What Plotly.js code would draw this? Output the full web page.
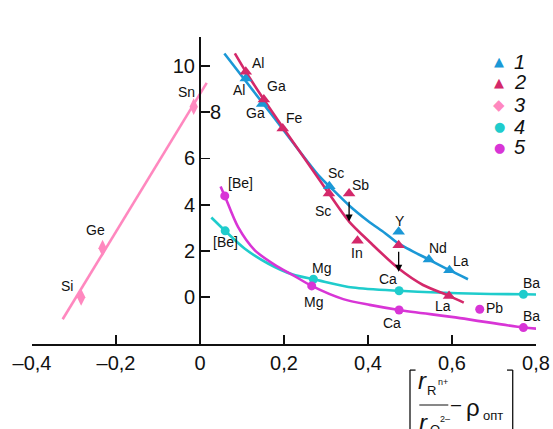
<!DOCTYPE html>
<html>
<head>
<meta charset="utf-8">
<script src="https://cdn.plot.ly/plotly-3.0.1.min.js"></script>
<style>html,body{margin:0;padding:0;background:#fff;}#chart{width:553px;height:429px;}</style>
</head>
<body>
<div id="chart"></div>
<script>
// ---- data ----
// Series 1 (blue triangles)
var s1Names = ['Al', 'Ga', 'Sc', 'Y', 'Nd', 'La'];
var s1X = [0.109, 0.148, 0.308, 0.473, 0.545, 0.594];
var s1Y = [9.46, 8.35, 4.80, 2.83, 1.63, 1.17];
var s1CurveX = [0.058, 0.17, 0.285, 0.308, 0.355, 0.40, 0.44, 0.473, 0.545, 0.594, 0.638];
var s1CurveY = [10.54, 7.91, 5.21, 4.80, 3.97, 3.30, 2.78, 2.32, 1.63, 1.17, 0.78];

// Series 2 (crimson triangles)
var s2Names = ['Al', 'Ga', 'Fe', 'Sc', 'Sb', 'In', 'Y', 'La'];
var s2X = [0.109, 0.152, 0.197, 0.307, 0.355, 0.375, 0.473, 0.593];
var s2Y = [9.75, 8.55, 7.29, 4.48, 4.48, 2.44, 2.25, 0.05];
var s2CurveX = [0.083, 0.109, 0.152, 0.197, 0.285, 0.307, 0.355, 0.404, 0.473, 0.531, 0.593, 0.628];
var s2CurveY = [10.54, 9.75, 8.55, 7.35, 5.06, 4.48, 3.27, 2.39, 1.24, 0.53, 0.06, -0.23];

// Series 3 (pink diamonds)
var s3Names = ['Si', 'Ge', 'Sn'];
var s3X = [-0.283, -0.232, -0.015];
var s3Y = [0.0, 2.12, 8.24];
var s3LineX = [-0.327, 0.016];
var s3LineY = [-0.95, 9.27];

// Series 4 (cyan circles)
var s4Names = ['[Be]', 'Mg', 'Ca', 'Ba'];
var s4X = [0.060, 0.270, 0.474, 0.770];
var s4Y = [2.87, 0.78, 0.28, 0.13];
var s4CurveX = [0.027, 0.060, 0.106, 0.162, 0.221, 0.270, 0.285, 0.364, 0.474, 0.666, 0.770, 0.817];
var s4CurveY = [3.45, 2.87, 2.11, 1.46, 0.98, 0.78, 0.72, 0.42, 0.28, 0.15, 0.13, 0.11];

// Series 5 (magenta circles)
var s5Names = ['[Be]', 'Mg', 'Ca', 'Pb', 'Ba'];
var s5X = [0.059, 0.266, 0.474, 0.666, 0.770];
var s5Y = [4.38, 0.49, -0.55, -0.52, -1.31];
var s5CurveX = [0.049, 0.059, 0.0905, 0.130, 0.178, 0.221, 0.266, 0.341, 0.404, 0.474, 0.619, 0.770, 0.813];
var s5CurveY = [4.79, 4.38, 3.04, 2.04, 1.40, 0.96, 0.49, -0.08, -0.33, -0.55, -0.90, -1.31, -1.37];

// Arrows (shifts): from -> to
var arrowX = [0.355, 0.473];
var arrowFromY = [4.19, 2.03];
var arrowToY = [3.27, 1.10];

// Tick labels
var xTickVals = [-0.4, -0.2, 0, 0.2, 0.4, 0.6, 0.8];
var xTickText = ['\u20130,4', '\u20130,2', '0', '0,2', '0,4', '0,6', '0,8'];
var yTickVals = [0, 2, 4, 6, 8, 10];
var yTickText = ['0', '2', '4', '6', '', '10'];
var legendLabels = ['1', '2', '3', '4', '5'];

// ---- styles ----
var C1 = '#1b98d6', C2 = '#d4286a', C3 = '#ff88bf', C4 = '#1fcccc', C5 = '#d835d6';
var FONT = 'Liberation Sans, Arial, Helvetica, sans-serif';
var LW = 2.6;

var traces = [
  {x: s3LineX, y: s3LineY, mode: 'lines', line: {color: C3, width: LW}, hoverinfo: 'skip'},
  {x: s4CurveX, y: s4CurveY, mode: 'lines', line: {color: C4, width: LW, shape: 'spline', smoothing: 0.8}},
  {x: s5CurveX, y: s5CurveY, mode: 'lines', line: {color: C5, width: LW, shape: 'spline', smoothing: 0.8}},
  {x: s1CurveX, y: s1CurveY, mode: 'lines', line: {color: C1, width: LW, shape: 'spline', smoothing: 0.8}},
  {x: s2CurveX, y: s2CurveY, mode: 'lines', line: {color: C2, width: LW, shape: 'spline', smoothing: 0.8}},
  {x: s3X, y: s3Y, text: s3Names, mode: 'markers', marker: {symbol: 'diamond-tall', size: 12, color: C3}},
  {x: s4X, y: s4Y, text: s4Names, mode: 'markers', marker: {symbol: 'circle', size: 9, color: C4}},
  {x: s5X, y: s5Y, text: s5Names, mode: 'markers', marker: {symbol: 'circle', size: 9, color: C5}},
  {x: s1X, y: s1Y, text: s1Names, mode: 'markers', marker: {symbol: 'triangle-up', size: 11, color: C1}},
  {x: s2X, y: s2Y, text: s2Names, mode: 'markers', marker: {symbol: 'triangle-up', size: 11, color: C2}}
];

// point label placements (label, x, y) in data units
var placements = [
  ['Al', 0.137, 10.14], ['Al', 0.094, 8.96], ['Ga', 0.181, 9.13], ['Ga', 0.133, 7.98],
  ['Fe', 0.226, 7.74], ['Sc', 0.324, 5.36], ['Sc', 0.294, 3.74], ['Sb', 0.381, 4.86],
  ['In', 0.373, 1.93], ['Y', 0.476, 3.30], ['Nd', 0.566, 2.12], ['La', 0.621, 1.58],
  ['Ca', 0.448, 0.79], ['La', 0.578, -0.38], ['Mg', 0.290, 1.25], ['Mg', 0.271, -0.19],
  ['Ca', 0.456, -1.10], ['Pb', 0.702, -0.45], ['Ba', 0.790, 0.61], ['Ba', 0.790, -0.80],
  ['[Be]', 0.096, 4.95], ['[Be]', 0.060, 2.40], ['Sn', -0.033, 8.89], ['Ge', -0.248, 2.91],
  ['Si', -0.317, 0.49]
];

var annotations = placements.map(function (p) {
  return {x: p[1], y: p[2], xref: 'x', yref: 'y', text: p[0], showarrow: false,
          xanchor: 'center', yanchor: 'middle', font: {family: FONT, size: 14, color: '#111'}};
});

// shift arrows
arrowX.forEach(function (ax, i) {
  annotations.push({x: ax, y: arrowToY[i], ax: ax, ay: arrowFromY[i], xref: 'x', yref: 'y',
    axref: 'x', ayref: 'y', showarrow: true, arrowhead: 2, arrowsize: 1.1, arrowwidth: 1.3,
    arrowcolor: '#000', text: ''});
});

// tick label "8" drawn on the right side of the y axis
annotations.push({x: 0.036, y: 8, xref: 'x', yref: 'y', text: '8', showarrow: false,
  xanchor: 'center', yanchor: 'middle', font: {family: FONT, size: 20, color: '#111'}});

// y-axis title
annotations.push({x: 0.003, y: 11.77, xref: 'x', yref: 'y', text: 'lg\u2009(K/K\u00b0)', showarrow: false,
  xanchor: 'center', yanchor: 'middle', font: {family: FONT, size: 20, color: '#111'}});

// legend
var legSym = ['\u25B2', '\u25B2', '\u25C6', '\u25CF', '\u25CF'];
var legCol = [C1, C2, C3, C4, C5];
var legY = [10.19, 9.30, 8.31, 7.38, 6.49];
legendLabels.forEach(function (lab, i) {
  annotations.push({x: 0.712, y: legY[i], xref: 'x', yref: 'y', text: legSym[i], showarrow: false,
    xanchor: 'center', yanchor: 'middle', font: {family: 'DejaVu Sans, sans-serif', size: i === 2 ? 15 : 13, color: legCol[i]}});
  annotations.push({x: 0.761, y: legY[i], xref: 'x', yref: 'y', text: '<i>' + lab + '</i>', showarrow: false,
    xanchor: 'center', yanchor: 'middle', font: {family: FONT, size: 20, color: '#111'}});
});

// x-axis title (bracketed fraction) in paper units
function pa(text, x, y, size) {
  return {x: x, y: y, xref: 'paper', yref: 'paper', text: text, showarrow: false,
          xanchor: 'center', yanchor: 'middle', font: {family: FONT, size: size, color: '#111'}};
}
annotations.push(pa('<i>r</i>', 0.7752, -0.120, 24));
annotations.push(pa('R', 0.7917, -0.152, 13));
annotations.push(pa('n+', 0.8155, -0.125, 9));
annotations.push(pa('\u2013', 0.8413, -0.197, 18));
annotations.push(pa('\u03C1', 0.8744, -0.206, 24));
annotations.push(pa('\u043E\u043F\u0442', 0.9153, -0.232, 13));
annotations.push(pa('<i>r</i>', 0.7764, -0.255, 24));
annotations.push(pa('2\u2013', 0.8190, -0.243, 9));
annotations.push(pa('O', 0.7990, -0.279, 13));

var shapes = [
  {type: 'line', xref: 'paper', yref: 'paper', x0: 0.75, x1: 0.75, y0: -0.085, y1: -0.30, line: {color: '#111', width: 1.3}},
  {type: 'line', xref: 'paper', yref: 'paper', x0: 0.75, x1: 0.761, y0: -0.085, y1: -0.085, line: {color: '#111', width: 1.3}},
  {type: 'line', xref: 'paper', yref: 'paper', x0: 0.9538, x1: 0.9538, y0: -0.085, y1: -0.30, line: {color: '#111', width: 1.3}},
  {type: 'line', xref: 'paper', yref: 'paper', x0: 0.9425, x1: 0.9538, y0: -0.085, y1: -0.085, line: {color: '#111', width: 1.3}},
  {type: 'line', xref: 'paper', yref: 'paper', x0: 0.7685, x1: 0.826, y0: -0.1987, y1: -0.1987, line: {color: '#111', width: 1}}
];

var layout = {
  width: 553, height: 429,
  margin: {l: 32, r: 17, t: 37, b: 85},
  paper_bgcolor: '#fff', plot_bgcolor: '#fff',
  showlegend: false,
  font: {family: FONT, color: '#111'},
  xaxis: {
    range: [-0.4, 0.8], showgrid: false, zeroline: false, showline: true, linecolor: '#111', linewidth: 2,
    ticks: 'inside', ticklen: 9, tickwidth: 1.6, tickcolor: '#111',
    tickvals: xTickVals, ticktext: xTickText, tickfont: {family: FONT, size: 20, color: '#111'},
    fixedrange: true
  },
  yaxis: {
    range: [-2.02, 11.25], anchor: 'free', position: 1 / 3, showgrid: false, zeroline: false,
    showline: true, linecolor: '#111', linewidth: 2,
    ticks: 'inside', ticklen: 9, tickwidth: 1.6, tickcolor: '#111',
    tickvals: yTickVals, ticktext: yTickText, tickfont: {family: FONT, size: 20, color: '#111'},
    fixedrange: true
  },
  annotations: annotations,
  shapes: shapes
};

Plotly.newPlot('chart', traces, layout, {staticPlot: true, displayModeBar: false});
</script>
</body>
</html>
